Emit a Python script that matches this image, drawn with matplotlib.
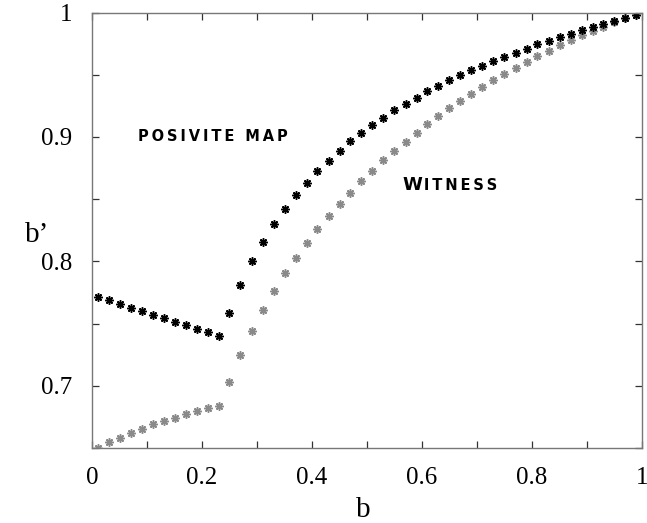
import numpy as np
import matplotlib
matplotlib.use("Agg")
import matplotlib.pyplot as plt
from matplotlib.ticker import MultipleLocator

# b values (same grid for both series)
b = np.arange(0.01, 1.0, 0.02)

# positive map
b_map = [0.7715, 0.7688, 0.7656, 0.7629, 0.7602, 0.7570, 0.7544, 0.7514, 0.7488, 0.7460,
         0.7431, 0.7402, 0.7586, 0.7814, 0.8002, 0.8159, 0.8299, 0.8422, 0.8534, 0.8633,
         0.8724, 0.8810, 0.8890, 0.8965, 0.9032, 0.9096, 0.9155, 0.9214, 0.9265, 0.9316,
         0.9367, 0.9412, 0.9455, 0.9495, 0.9536, 0.9573, 0.9610, 0.9645, 0.9677, 0.9710,
         0.9745, 0.9774, 0.9803, 0.9830, 0.9860, 0.9886, 0.9908, 0.9932, 0.9953, 0.9977]

# witness
b_wit = [0.6504, 0.6545, 0.6582, 0.6620, 0.6655, 0.6690, 0.6719, 0.6745, 0.6773, 0.6797,
         0.6818, 0.6837, 0.7030, 0.7251, 0.7444, 0.7613, 0.7765, 0.7905, 0.8030, 0.8149,
         0.8259, 0.8365, 0.8464, 0.8553, 0.8647, 0.8730, 0.8813, 0.8890, 0.8962, 0.9035,
         0.9102, 0.9169, 0.9230, 0.9289, 0.9345, 0.9402, 0.9455, 0.9508, 0.9557, 0.9602,
         0.9650, 0.9693, 0.9737, 0.9777, 0.9817, 0.9851, 0.9886, 0.9921, 0.9953, 0.9982]

fig = plt.figure(figsize=(6.47, 5.23), dpi=100)
ax = fig.add_axes([92 / 647, 1 - 448 / 523, 550 / 647, 435.5 / 523])

star = (8, 2, 0)
ax.plot(b, b_wit, linestyle='none', marker=star, markersize=6, markeredgewidth=1.1,
        color='#8a8a8a')
ax.plot(b, b_map, linestyle='none', marker=star, markersize=6, markeredgewidth=1.1,
        color='black')

ax.set_xlim(0, 1)
ax.set_ylim(0.65, 1)
ax.xaxis.set_major_locator(MultipleLocator(0.2))
ax.xaxis.set_minor_locator(MultipleLocator(0.1))
ax.yaxis.set_major_locator(MultipleLocator(0.1))
ax.yaxis.set_minor_locator(MultipleLocator(0.05))
ax.xaxis.set_major_formatter(plt.FuncFormatter(lambda v, p: '%g' % round(v, 2)))
ax.yaxis.set_major_formatter(plt.FuncFormatter(lambda v, p: '%g' % round(v, 2)))

for s in ax.spines.values():
    s.set_color('#777777')
    s.set_linewidth(1.0)

ax.tick_params(which='both', direction='in', top=True, right=True, color='#333333',
               width=0.9, labelsize=18, labelfontfamily='Liberation Serif')
ax.tick_params(which='major', length=5)
ax.tick_params(which='minor', length=5)
ax.tick_params(axis='x', which='major', pad=14)
ax.tick_params(axis='y', which='major', pad=14)

fig.text(37 / 647, 1 - 235 / 523, 'b\u2019', fontsize=21, family='Liberation Serif',
         ha='center', va='center')
fig.text(363 / 647, 1 - 510 / 523, 'b', fontsize=21, family='Liberation Serif',
         ha='center', va='center')

# wide lettering, spread out with thin spaces
sp = '\u2009'
ax.text(0.0836, 0.8968, sp.join('POSIVITE MAP'), fontsize=10.5, fontweight='bold',
        family='DejaVu Sans', va='baseline', ha='left')
ax.text(0.5636, 0.857, 'W', fontsize=13, fontweight='bold', family='DejaVu Sans',
        va='baseline', ha='left')
ax.annotate(sp + sp.join('ITNESS'), xy=(0.5636, 0.857), xytext=(13.5, 0),
            textcoords='offset points', fontsize=10.5, fontweight='bold',
            family='DejaVu Sans', va='baseline', ha='left')

fig.savefig('out.png', dpi=100)
